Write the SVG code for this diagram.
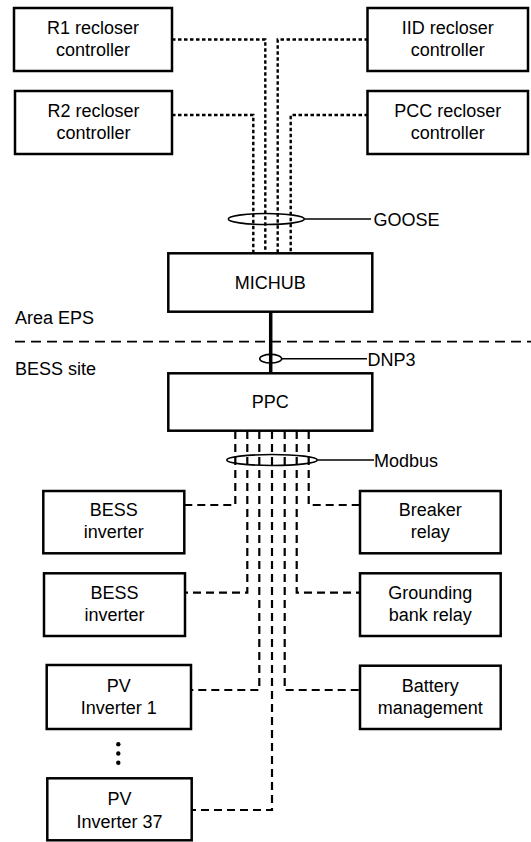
<svg xmlns="http://www.w3.org/2000/svg" width="531" height="842" viewBox="0 0 531 842">
  <style>
    .box { fill: #fff; stroke: #000; stroke-width: 2.5; }
    .lbl { font-family: "Liberation Sans", Arial, sans-serif; font-size: 18px; fill: #000; text-anchor: middle; }
    .tag { font-family: "Liberation Sans", Arial, sans-serif; font-size: 18px; fill: #000; }
    .goose { fill: none; stroke: #000; stroke-width: 2.4; stroke-dasharray: 3.5 2.5; }
    .modbus { fill: none; stroke: #000; stroke-width: 2.2; stroke-dasharray: 8 5; }
    .ring { fill: none; stroke: #000; stroke-width: 1.6; }
    .lead { fill: none; stroke: #000; stroke-width: 1.6; }
  </style>

  <!-- site boundary -->
  <g id="boundary">
    <line x1="15" y1="341.7" x2="531" y2="341.7" stroke="#000" stroke-width="1.8" stroke-dasharray="10 6"/>
    <text class="tag" x="15" y="324">Area EPS</text>
    <text class="tag" x="15" y="375">BESS site</text>
  </g>

  <!-- connectors -->
  <g id="connectors">
    <!-- GOOSE links -->
    <path class="goose" d="M172 39.5 H265.3 V253"/>
    <path class="goose" d="M368 39.5 H277.7 V253"/>
    <path class="goose" d="M172 115 H253.3 V253"/>
    <path class="goose" d="M368 115 H290.7 V253"/>
    <ellipse class="ring" cx="266.3" cy="219" rx="38" ry="5.5"/>
    <line class="lead" x1="304.3" y1="219" x2="371" y2="219"/>

    <!-- MICHUB to PPC -->
    <line x1="270.7" y1="312" x2="270.7" y2="373" stroke="#000" stroke-width="3.5"/>
    <ellipse class="ring" cx="270.7" cy="358.7" rx="11" ry="4.3"/>
    <line class="lead" x1="281.7" y1="358.7" x2="367" y2="358.7"/>

    <!-- Modbus links -->
    <path class="modbus" d="M235.3 431 V505 H184.3"/>
    <path class="modbus" d="M308.7 431 V505 H360"/>
    <path class="modbus" d="M247.3 431 V592.7 H185"/>
    <path class="modbus" d="M296.7 431 V592.7 H360"/>
    <path class="modbus" d="M259.3 431 V690 H191"/>
    <path class="modbus" d="M284.7 431 V690 H360"/>
    <path class="modbus" d="M272 431 V810 H191.7"/>
    <ellipse class="ring" cx="272" cy="460" rx="45.3" ry="5.5"/>
    <line class="lead" x1="317.3" y1="460" x2="374" y2="460"/>
  </g>

  <!-- bus labels -->
  <g id="bus-labels">
    <text class="tag" x="373.5" y="225.5">GOOSE</text>
    <text class="tag" x="367.5" y="365.5">DNP3</text>
    <text class="tag" x="374" y="466.5">Modbus</text>
  </g>

  <!-- recloser controllers -->
  <g id="r1">
    <rect class="box" x="14" y="8" width="158" height="63"/>
    <text class="lbl" x="93" y="33.5">R1 recloser</text>
    <text class="lbl" x="93" y="55.8">controller</text>
  </g>
  <g id="iid">
    <rect class="box" x="367.5" y="8" width="160.5" height="63"/>
    <text class="lbl" x="447.8" y="33.5">IID recloser</text>
    <text class="lbl" x="447.8" y="55.8">controller</text>
  </g>
  <g id="r2">
    <rect class="box" x="15" y="91" width="157" height="63"/>
    <text class="lbl" x="93.5" y="116.5">R2 recloser</text>
    <text class="lbl" x="93.5" y="138.8">controller</text>
  </g>
  <g id="pcc">
    <rect class="box" x="367.5" y="91" width="160.5" height="63"/>
    <text class="lbl" x="447.8" y="116.5">PCC recloser</text>
    <text class="lbl" x="447.8" y="138.8">controller</text>
  </g>

  <!-- hubs -->
  <g id="michub">
    <rect class="box" x="168.3" y="253.3" width="204" height="58.4"/>
    <text class="lbl" x="270.3" y="288.5">MICHUB</text>
  </g>
  <g id="ppc">
    <rect class="box" x="168.3" y="373.3" width="204" height="57.4"/>
    <text class="lbl" x="270.3" y="408">PPC</text>
  </g>

  <!-- field devices, left -->
  <g id="bess-inverter-a">
    <rect class="box" x="43.3" y="491" width="141" height="62.3"/>
    <text class="lbl" x="113.8" y="516">BESS</text>
    <text class="lbl" x="113.8" y="538.3">inverter</text>
  </g>
  <g id="bess-inverter-b">
    <rect class="box" x="44" y="573.3" width="141" height="62.7"/>
    <text class="lbl" x="114.5" y="598.5">BESS</text>
    <text class="lbl" x="114.5" y="620.8">inverter</text>
  </g>
  <g id="pv-inverter-1">
    <rect class="box" x="46.7" y="665" width="144.3" height="64"/>
    <text class="lbl" x="118.8" y="691.5">PV</text>
    <text class="lbl" x="118.8" y="713.5">Inverter 1</text>
  </g>
  <g id="ellipsis">
    <circle cx="118.3" cy="744.3" r="2.2" fill="#000"/>
    <circle cx="118.3" cy="753.5" r="2.2" fill="#000"/>
    <circle cx="118.3" cy="762.7" r="2.2" fill="#000"/>
  </g>
  <g id="pv-inverter-37">
    <rect class="box" x="47.3" y="778.3" width="144.4" height="62"/>
    <text class="lbl" x="119.5" y="805">PV</text>
    <text class="lbl" x="119.5" y="827.5">Inverter 37</text>
  </g>

  <!-- field devices, right -->
  <g id="breaker-relay">
    <rect class="box" x="360" y="491" width="140.7" height="62.3"/>
    <text class="lbl" x="430.3" y="516">Breaker</text>
    <text class="lbl" x="430.3" y="538.3">relay</text>
  </g>
  <g id="grounding-bank-relay">
    <rect class="box" x="360" y="573.3" width="140.7" height="62.7"/>
    <text class="lbl" x="430.3" y="598.5">Grounding</text>
    <text class="lbl" x="430.3" y="620.8">bank relay</text>
  </g>
  <g id="battery-management">
    <rect class="box" x="360" y="665.7" width="140.7" height="63.3"/>
    <text class="lbl" x="430.3" y="691.5">Battery</text>
    <text class="lbl" x="430.3" y="713.5">management</text>
  </g>
</svg>
